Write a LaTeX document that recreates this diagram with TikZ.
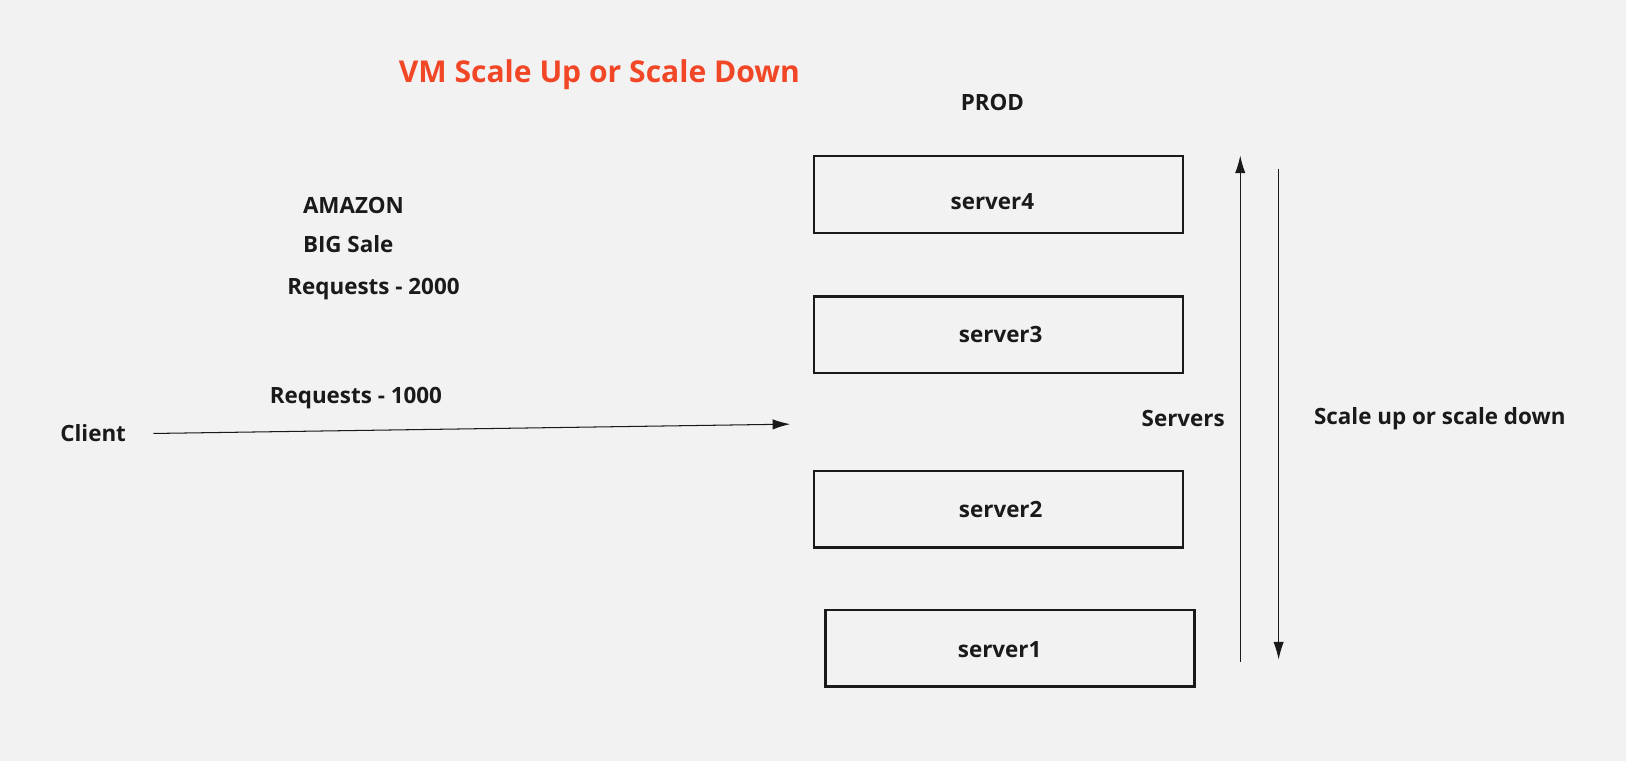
\documentclass[tikz,border=0pt]{standalone}
\usepackage{fontspec}
\setmainfont{Open Sans}
\usetikzlibrary{arrows.meta}
\definecolor{bg}{HTML}{F2F2F2}
\definecolor{ink}{HTML}{1A1A1A}
\definecolor{titlered}{HTML}{F24726}
\tikzset{
  lbl/.style={font=\fontsize{21.6}{25}\selectfont\bfseries, text=ink, inner sep=0pt},
  srv/.style={draw=ink, line width=2.2pt, minimum width=356pt, minimum height=74pt, inner sep=0pt},
  conn/.style={draw=ink, line width=1pt, -{Latex[length=17pt,width=10pt]}}
}
\begin{document}
\begin{tikzpicture}[x=1pt,y=-1pt]
\fill[bg] (0,0) rectangle (1568,734);
\useasboundingbox (0,0) rectangle (1568,734);
\node[font=\fontsize{29}{33}\selectfont\bfseries, text=titlered, inner sep=0pt] (title) at (578,72) {VM Scale Up or Scale Down};
\node[lbl] (prod) at (957,99) {PROD};
\node[srv] (s4) at (963,187.5) {};
\node[srv] (s3) at (963,323) {};
\node[srv] (s2) at (963,491) {};
\node[srv] (s1) at (974,625) {};
\node[lbl] (t4) at (957,194) {server4};
\node[lbl] (t3) at (965,323) {server3};
\node[lbl] (t2) at (965,491) {server2};
\node[lbl] (t1) at (964,626) {server1};
\node[lbl, anchor=west] (amazon) at (292,198) {AMAZON};
\node[lbl, anchor=west] (big) at (292,235) {BIG Sale};
\node[lbl, anchor=west] (r2000) at (277,279) {Requests - 2000};
\node[lbl, anchor=west] (r1000) at (260,384) {Requests - 1000};
\node[lbl, anchor=west] (client) at (58,418) {Client};
\node[lbl] (servers) at (1141,404) {Servers};
\node[lbl, anchor=west] (scale) at (1267,404) {Scale up or scale down};
\coordinate (cs) at (148,418);
\coordinate (lb) at (762,409);
\coordinate (upA) at (1196,638);
\coordinate (upB) at (1196,150);
\coordinate (dnA) at (1233,163);
\coordinate (dnB) at (1233,636);
\draw[conn] (cs) -- (lb);
\draw[conn] (upA) -- (upB);
\draw[conn] (dnA) -- (dnB);
\end{tikzpicture}
\end{document}
